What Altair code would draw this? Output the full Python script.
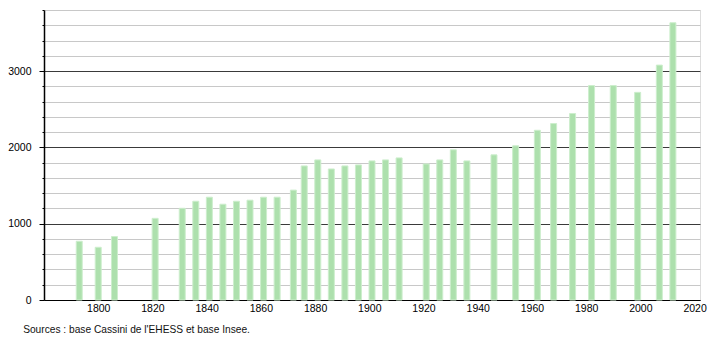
import altair as alt
import pandas as pd

years = [1793, 1800, 1806, 1821, 1831, 1836, 1841, 1846, 1851, 1856, 1861, 1866,
         1872, 1876, 1881, 1886, 1891, 1896, 1901, 1906, 1911, 1921, 1926, 1931,
         1936, 1946, 1954, 1962, 1968, 1975, 1982, 1990, 1999, 2007, 2012]
population = [770, 691, 832, 1070, 1202, 1294, 1347, 1255, 1294, 1308, 1347, 1347,
              1440, 1757, 1836, 1717, 1757, 1770, 1823, 1836, 1862, 1783, 1836, 1968,
              1823, 1902, 2021, 2224, 2312, 2444, 2810, 2810, 2721, 3078, 3633]
x_ticks = [1800, 1820, 1840, 1860, 1880, 1900, 1920, 1940, 1960, 1980, 2000, 2020]
y_ticks = list(range(0, 3801, 200))
source_text = "Sources : base Cassini de l'EHESS et base Insee."

df = pd.DataFrame({"year": years, "pop": population})

major = "datum.value % 1000 === 0"

chart = alt.Chart(df).mark_bar(
    size=6, color="#ade0ad", stroke="#cdeecd", strokeWidth=1
).encode(
    x=alt.X("year:Q",
            scale=alt.Scale(domain=[1780, 2022], nice=False, zero=False, padding=0),
            axis=alt.Axis(values=x_ticks, format="d", title=None, grid=False,
                          ticks=False, domainColor="#000", domainWidth=1,
                          labelFont="Liberation Sans", labelFontSize=10.5,
                          labelColor="#000", labelPadding=3)),
    y=alt.Y("pop:Q",
            scale=alt.Scale(domain=[0, 3800], nice=False),
            axis=alt.Axis(values=y_ticks, title=None, grid=True,
                          gridColor=alt.condition(major, alt.value("#3a3a3a"), alt.value("#c8c8c8")),
                          gridWidth=1,
                          labelExpr="datum.value % 1000 === 0 ? datum.value : ''",
                          tickSize=alt.condition(major, alt.value(5), alt.value(2)),
                          tickColor="#000", domainColor="#000",
                          domainWidth=1.5,
                          labelFont="Liberation Sans", labelFontSize=10.5,
                          labelColor="#000", labelPadding=8)),
).properties(
    width=656, height=290,
    title=alt.TitleParams(source_text, orient="bottom", anchor="start",
                          font="Liberation Sans", fontSize=10.2, fontWeight="normal",
                          color="#111", offset=11, dx=15.5),
    padding={"left": 44, "top": 10, "right": 10, "bottom": 40},
    autosize=alt.AutoSizeParams(type="none"),
).configure_view(stroke=None).configure(background="white")

chart.save("out.html", embed_options={"renderer": "svg", "actions": False})
